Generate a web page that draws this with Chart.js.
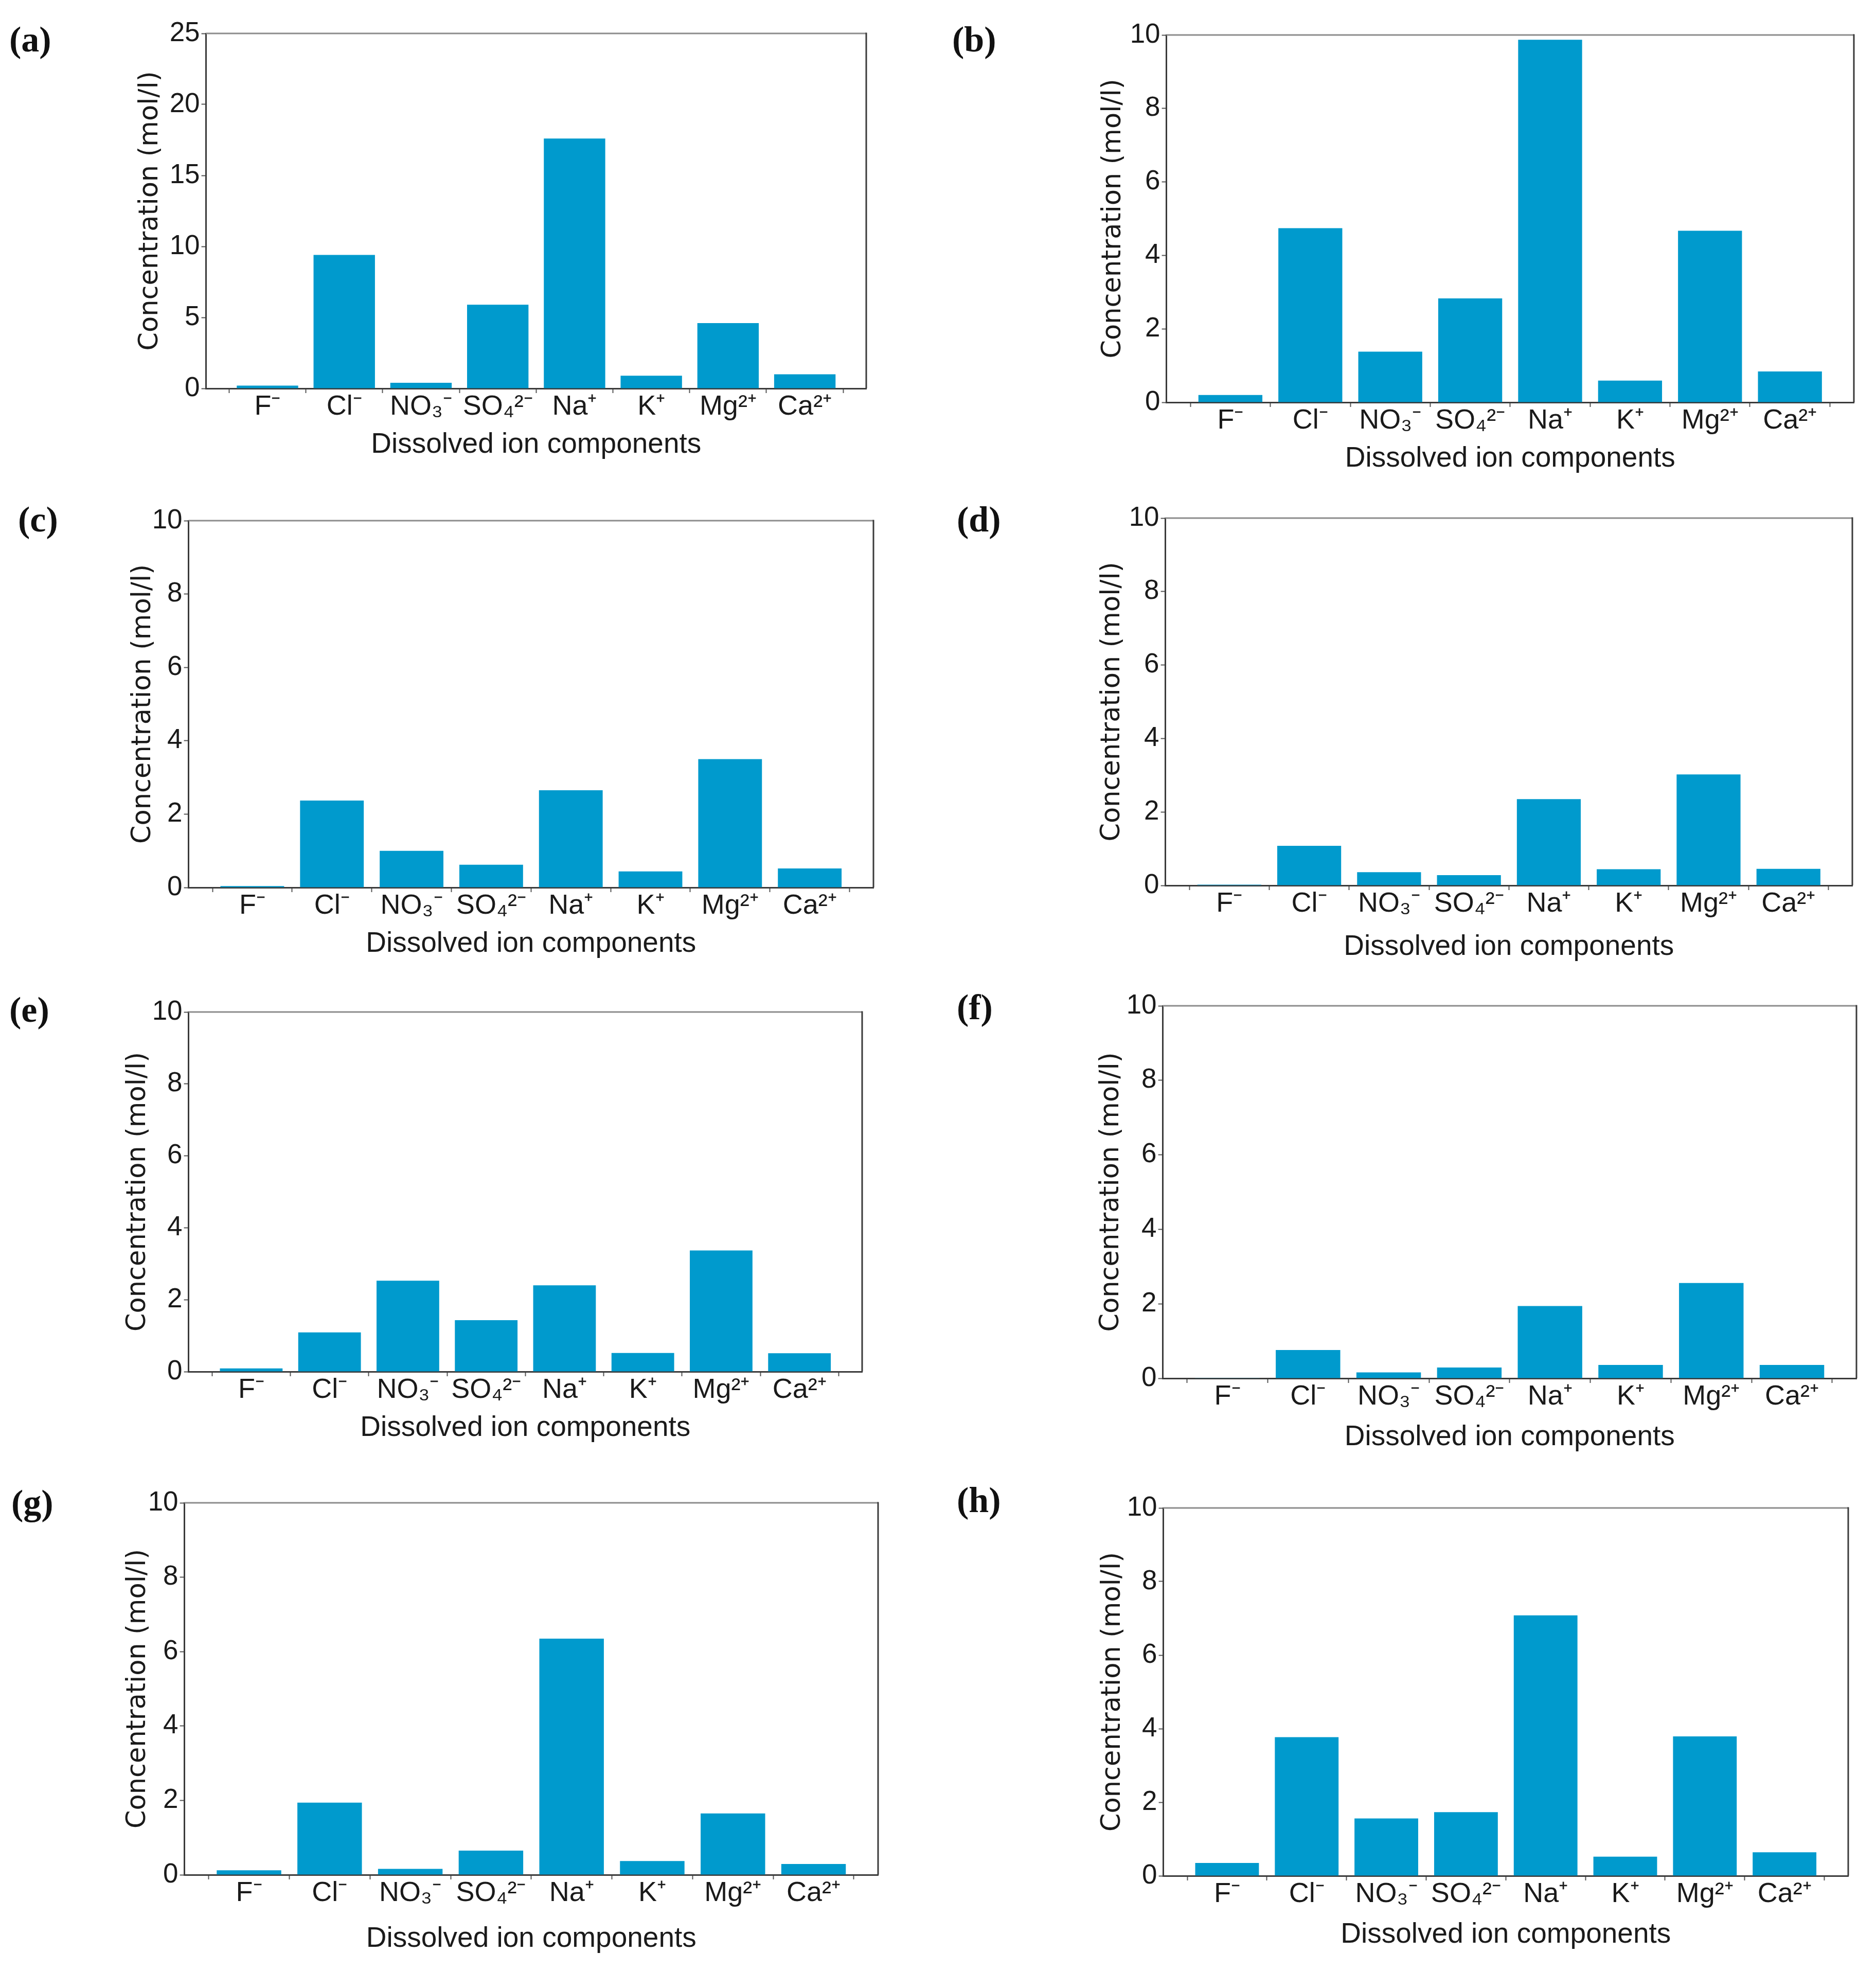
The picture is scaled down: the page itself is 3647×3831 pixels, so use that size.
<!DOCTYPE html>
<html>
<head>
<meta charset="utf-8">
<script src="https://cdn.jsdelivr.net/npm/chart.js@4.4.1/dist/chart.umd.min.js"></script>
<style>
  body { margin: 0; background: #fff; width: 3647px; height: 3831px; position: relative; overflow: hidden; }
  canvas { position: absolute; }
  .tag { position: absolute; font-family: "Liberation Serif", serif; font-weight: bold; font-size: 70px; line-height: 1; color: #111; }
</style>
</head>
<body>
<script>
const ions = ["F⁻", "Cl⁻", "NO₃⁻", "SO₄²⁻", "Na⁺", "K⁺", "Mg²⁺", "Ca²⁺"];

const valuesA = [0.2, 9.4, 0.4, 5.9, 17.6, 0.9, 4.6, 1.0];
const valuesB = [0.2, 4.74, 1.38, 2.83, 9.87, 0.59, 4.67, 0.84];
const valuesC = [0.04, 2.37, 1.0, 0.62, 2.65, 0.44, 3.5, 0.52];
const valuesD = [0.02, 1.08, 0.36, 0.28, 2.35, 0.44, 3.02, 0.45];
const valuesE = [0.09, 1.09, 2.53, 1.43, 2.4, 0.52, 3.37, 0.51];
const valuesF = [0.01, 0.76, 0.16, 0.29, 1.94, 0.36, 2.56, 0.36];
const valuesG = [0.12, 1.94, 0.16, 0.65, 6.35, 0.37, 1.65, 0.29];
const valuesH = [0.35, 3.77, 1.56, 1.73, 7.08, 0.52, 3.79, 0.64];

const yTicksA = [0, 5, 10, 15, 20, 25];
const yTicks = [0, 2, 4, 6, 8, 10];

const panels = [
    { tag: "(a)", values: valuesA, ticks: yTicksA },
    { tag: "(b)", values: valuesB, ticks: yTicks },
    { tag: "(c)", values: valuesC, ticks: yTicks },
    { tag: "(d)", values: valuesD, ticks: yTicks },
    { tag: "(e)", values: valuesE, ticks: yTicks },
    { tag: "(f)", values: valuesF, ticks: yTicks },
    { tag: "(g)", values: valuesG, ticks: yTicks },
    { tag: "(h)", values: valuesH, ticks: yTicks }
];

// plot area on the page: left, top, right, bottom, y-title gap, x-title gap
const boxes = [
    [401, 65, 1685, 755, 108, 110],
    [2268, 68, 3605, 782, 103, 110],
    [367, 1012, 1699, 1725, 88, 110],
    [2266, 1007, 3602, 1721, 103, 120],
    [367, 1967, 1677, 2666, 98, 110],
    [2261, 1955, 3610, 2679, 100, 115],
    [359, 2921, 1708, 3644, 90, 125],
    [2262, 2931, 3594, 3646, 98, 115]
];
const tagPos = [[18, 42], [1851, 42], [35, 975], [1860, 975], [18, 1928], [1860, 1923], [22, 2886], [1860, 2881]];

const barColor = "#009ACD";
const axisColor = "#3a3a3a";
const textColor = "#1a1a1a";
const sansFont = "'Liberation Sans', Arial, sans-serif";

// top and right spines of the box
const frame = {
    id: "frame",
    afterDraw(chart) {
        const { ctx, chartArea: a } = chart;
        ctx.save();
        ctx.lineWidth = 3;
        ctx.strokeStyle = "#8c8c8c";
        ctx.beginPath();
        ctx.moveTo(a.left, a.top);
        ctx.lineTo(a.right, a.top);
        ctx.stroke();
        ctx.strokeStyle = axisColor;
        ctx.beginPath();
        ctx.moveTo(a.right, a.top - 1.5);
        ctx.lineTo(a.right, a.bottom);
        ctx.stroke();
        ctx.restore();
    }
};

panels.forEach(function (p, i) {
    const [L, T, R, B, gapY, gapX] = boxes[i];
    const yTitleSize = 51, xTitleSize = 55;
    const Yw = gapY + yTitleSize * 1.2 / 2;
    const Xh = gapX + xTitleSize * 1.2 / 2;
    const padTop = 40, padRight = 20;

    const cv = document.createElement("canvas");
    cv.width = (R - L) + Yw + padRight;
    cv.height = (B - T) + padTop + Xh;
    cv.style.left = (L - Yw) + "px";
    cv.style.top = (T - padTop) + "px";
    cv.style.width = cv.width + "px";
    cv.style.height = cv.height + "px";
    document.body.appendChild(cv);

    const tag = document.createElement("div");
    tag.className = "tag";
    tag.textContent = p.tag;
    tag.style.left = tagPos[i][0] + "px";
    tag.style.top = tagPos[i][1] + "px";
    document.body.appendChild(tag);

    new Chart(cv, {
        type: "bar",
        data: {
            datasets: [{
                data: p.values.map((v, k) => ({ x: k, y: v })),
                backgroundColor: barColor,
                borderWidth: 0,
                barPercentage: 0.8,
                categoryPercentage: 1
            }]
        },
        options: {
            responsive: false,
            animation: false,
            devicePixelRatio: 1,
            layout: { padding: { top: padTop, right: padRight, left: 0, bottom: 0 } },
            plugins: { legend: { display: false }, tooltip: { enabled: false } },
            scales: {
                x: {
                    type: "linear",
                    min: -0.8,
                    max: ions.length - 0.2,
                    offset: false,
                    afterBuildTicks: s => { s.ticks = ions.map((_, k) => ({ value: k })); },
                    afterFit: s => { s.height = Xh; },
                    ticks: {
                        callback: v => ions[v],
                        autoSkip: false,
                        maxRotation: 0,
                        padding: 0,
                        color: textColor,
                        font: { family: sansFont, size: 54, lineHeight: 1 }
                    },
                    grid: { display: true, drawOnChartArea: false, drawTicks: true, tickLength: 9, tickWidth: 2, tickColor: "#555" },
                    border: { display: true, color: axisColor, width: 3 },
                    title: {
                        display: true,
                        text: "Dissolved ion components",
                        color: textColor,
                        padding: 0,
                        font: { family: sansFont, size: xTitleSize, lineHeight: 1.2 }
                    }
                },
                y: {
                    min: p.ticks[0],
                    max: p.ticks[p.ticks.length - 1],
                    afterFit: s => { s.width = Yw; },
                    ticks: {
                        stepSize: p.ticks[1] - p.ticks[0],
                        padding: 3,
                        color: textColor,
                        font: { family: sansFont, size: 53, lineHeight: 1 }
                    },
                    grid: { display: true, drawOnChartArea: false, drawTicks: true, tickLength: 9, tickWidth: 2, tickColor: "#555" },
                    border: { display: true, color: axisColor, width: 3 },
                    title: {
                        display: true,
                        text: "Concentration (mol/l)",
                        color: textColor,
                        padding: 0,
                        font: { family: "'DejaVu Sans', sans-serif", size: yTitleSize, lineHeight: 1.2 }
                    }
                }
            }
        },
        plugins: [frame]
    });
});
</script>
</body>
</html>
